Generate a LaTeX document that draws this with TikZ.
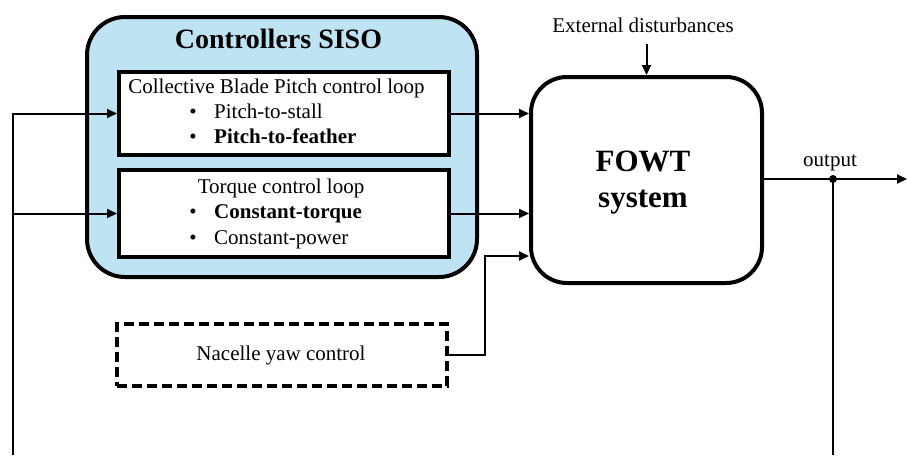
\documentclass[tikz,border=0pt]{standalone}
\usepackage{fontspec}
\setmainfont{LiberationSerif}[Extension=.ttf, UprightFont=*-Regular, BoldFont=*-Bold, ItalicFont=*-Italic, BoldItalicFont=*-BoldItalic]
\usetikzlibrary{arrows.meta}
\definecolor{ctrlblue}{HTML}{BEE3F3}
\begin{document}
\begin{tikzpicture}[x=1pt,y=-1pt,
  every node/.style={inner sep=0pt},
  txt/.style={font=\fontsize{21}{24}\selectfont},
  bold/.style={font=\fontsize{21}{24}\selectfont\bfseries},
  loopbox/.style={draw, line width=4pt, fill=white, anchor=north west},
  arr/.style={line width=2pt, -{Triangle[length=10pt,width=9pt]}},
  wire/.style={line width=2pt}]
\useasboundingbox (0,0) rectangle (907,455);

% controller group
\node[draw, line width=4pt, fill=ctrlblue, rounded corners=38pt,
      minimum width=390pt, minimum height=260pt, anchor=north west] (ctrl) at (85,15) {};
\node[font=\fontsize{28}{30}\selectfont\bfseries, anchor=base] (ctrltitle) at (278.5,48) {Controllers SISO};

% pitch loop
\node[loopbox, minimum width=330pt, minimum height=83pt] (pitch) at (117,70) {};
\node[txt, anchor=base] (pitchttl) at (276.5,93) {Collective Blade Pitch control loop};
\node[txt, anchor=base] (b1) at (193,118) {•};
\node[txt, anchor=base west] (p1) at (214,118) {Pitch-to-stall};
\node[txt, anchor=base] (b2) at (193,143) {•};
\node[bold, anchor=base west] (p2) at (214,143) {Pitch-to-feather};

% torque loop
\node[loopbox, minimum width=330pt, minimum height=87pt] (torque) at (117,168) {};
\node[txt, anchor=base] (torquettl) at (281,193) {Torque control loop};
\node[txt, anchor=base] (b3) at (193,218) {•};
\node[bold, anchor=base west] (t1) at (214,218) {Constant-torque};
\node[txt, anchor=base] (b4) at (193,244) {•};
\node[txt, anchor=base west] (t2) at (214,244) {Constant-power};

% plant
\node[draw, line width=4pt, rounded corners=36pt, minimum width=231pt,
      minimum height=206pt, anchor=north west] (fowt) at (529,75) {};
\node[font=\fontsize{31}{34}\selectfont\bfseries, anchor=base] (fowt1) at (643,171) {FOWT};
\node[font=\fontsize{31}{34}\selectfont\bfseries, anchor=base] (fowt2) at (643,207) {system};

% disturbance
\node[txt, anchor=base] (ext) at (643,32) {External disturbances};
\coordinate (extin) at (fowt.north |- 0,44);
\draw[arr] (extin) -- (fowt.north);

% yaw control
\node[draw, line width=3.5pt, dash pattern=on 10pt off 5pt, minimum width=330pt,
      minimum height=62pt, anchor=north west] (yaw) at (115,322) {};
\node[txt, anchor=base] (yawtxt) at (281,360) {Nacelle yaw control};

% controller outputs
\draw[arr] (pitch.east) -- (pitch.east -| fowt.west);
\draw[arr] (torque.east) -- (torque.east -| fowt.west);
\coordinate (yawbend) at (485,256);
\draw[arr] (yaw.east) -| (yawbend) -- (yawbend -| fowt.west);

% output and feedback
\coordinate (outend) at (907,179);
\coordinate (tap) at (833,179);
\node[txt, anchor=base] (outlbl) at (830,166) {output};
\draw[arr] (fowt.east |- outend) -- (outend);
\fill (tap) circle (4pt);
\coordinate (fbright) at (833,455);
\draw[wire] (tap) -- (fbright);

\coordinate (fbleft) at (13,455);
\coordinate (fbjoin) at (fbleft |- torque.west);
\draw[arr] (fbleft) |- (pitch.west);
\draw[arr] (fbjoin) -- (torque.west);
\end{tikzpicture}
\end{document}
